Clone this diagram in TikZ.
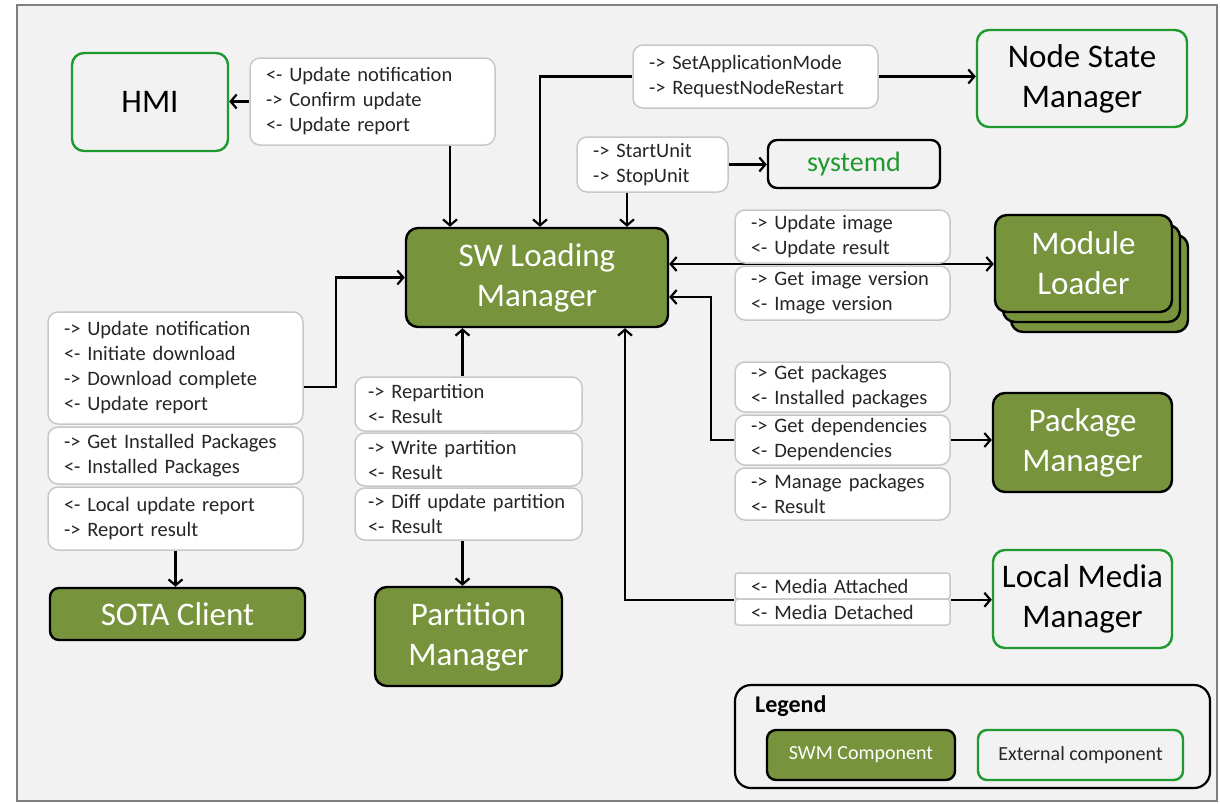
\documentclass[tikz,border=0pt]{standalone}
\usepackage{fontspec}
\setmainfont{Carlito}
\usetikzlibrary{arrows.meta}
\definecolor{bg}{HTML}{F2F2F2}
\definecolor{olive}{HTML}{77933C}
\definecolor{extgreen}{HTML}{1F9A2E}
\definecolor{lblgrey}{HTML}{C8C8C8}
\definecolor{txt}{HTML}{262626}
\definecolor{framegrey}{HTML}{7F7F7F}
\pgfdeclarelayer{back}
\pgfsetlayers{back,main}
\begin{document}
\begin{tikzpicture}[x=1pt,y=-1pt,
  comp/.style={rounded corners=12pt, line width=2.4pt, align=center, inner sep=0pt,
    font=\fontsize{33}{40}\selectfont},
  swm/.style={comp, draw=black, fill=olive, text=white},
  ext/.style={comp, draw=extgreen, fill=bg, text=black},
  lbl/.style={draw=lblgrey, fill=white, line width=1.5pt, rounded corners=10pt,
    inner xsep=16pt, inner ysep=0pt, align=left, text=txt,
    font=\fontsize{20.5}{25}\selectfont},
  arr/.style={line width=2.2pt, -{Straight Barb[length=6pt,width=14pt]}},
  arrboth/.style={line width=2.2pt, {Straight Barb[length=6pt,width=14pt]}-{Straight Barb[length=6pt,width=14pt]}},
]
\useasboundingbox (0,0) rectangle (1220,803);

% HMI
\node[ext, minimum width=156pt, minimum height=98pt] (hmi) at (150,102) {HMI};
\node[lbl, text width=213pt, minimum height=87pt] (hmil) at (372.5,101.5)
  {<- Update notification\\-> Confirm update\\<- Update report};

% Node State Manager
\node[ext, minimum width=210pt, minimum height=97pt] (nsm) at (1082,78.5) {Node State\\Manager};
\node[lbl, text width=213pt, minimum height=63pt] (nsml) at (755.5,76.5)
  {-> SetApplicationMode\\-> RequestNodeRestart};

% systemd
\node[comp, draw=black, fill=bg, text=extgreen, font=\fontsize{28}{34}\selectfont,
  rounded corners=9pt, minimum width=172pt, minimum height=48pt] (sysd) at (854,164) {systemd};
\node[lbl, text width=119pt, minimum height=55pt] (sysl) at (652.5,164.5)
  {-> StartUnit\\-> StopUnit};

% SW Loading Manager
\node[swm, minimum width=262pt, minimum height=99pt] (swlm) at (537,277.5) {SW Loading\\Manager};

% Module Loader (stacked instances)
\node[swm, minimum width=177pt, minimum height=97pt] (ml3) at (1099.5,283.5) {};
\node[swm, minimum width=177pt, minimum height=97pt] (ml2) at (1091.5,273.5) {};
\node[swm, minimum width=177pt, minimum height=97pt] (ml) at (1083.5,263.5) {Module\\Loader};
\node[lbl, text width=183pt, minimum height=53pt] (mll1) at (842.5,236.5)
  {-> Update image\\<- Update result};
\node[lbl, text width=183pt, minimum height=54pt] (mll2) at (842.5,293)
  {-> Get image version\\<- Image version};

% Package Manager
\node[swm, minimum width=179pt, minimum height=99pt] (pkg) at (1082.5,442.5) {Package\\Manager};
\node[lbl, text width=183pt, minimum height=50pt] (pkl1) at (842.5,387)
  {-> Get packages\\<- Installed packages};
\node[lbl, text width=183pt, minimum height=50pt] (pkl2) at (842.5,440)
  {-> Get dependencies\\<- Dependencies};
\node[lbl, text width=183pt, minimum height=52pt] (pkl3) at (842.5,494)
  {-> Manage packages\\<- Result};

% Local Media Manager
\node[ext, minimum width=179pt, minimum height=98pt] (lmm) at (1082.5,599) {Local Media\\Manager};
\node[lbl, rounded corners=3pt, text width=183pt, minimum height=26pt] (lml1) at (842.5,586)
  {<- Media Attached};
\node[lbl, rounded corners=3pt, text width=183pt, minimum height=26pt] (lml2) at (842.5,612)
  {<- Media Detached};

% SOTA Client
\node[lbl, text width=223pt, minimum height=112pt] (sl1) at (175.5,368)
  {-> Update notification\\<- Initiate download\\-> Download complete\\<- Update report};
\node[lbl, text width=223pt, minimum height=57pt] (sl2) at (175.5,455.5)
  {-> Get Installed Packages\\<- Installed Packages};
\node[lbl, text width=223pt, minimum height=63pt] (sl3) at (175.5,518.5)
  {<- Local update report\\-> Report result};
\node[swm, rounded corners=9pt, minimum width=255pt, minimum height=52pt] (sota) at (177.5,614) {SOTA Client};

% Partition Manager
\tikzset{plbl/.style={lbl, inner xsep=13pt, text width=201pt}}
\node[plbl, minimum height=54pt] (pl1) at (468.5,404)
  {-> Repartition\\<- Result};
\node[plbl, minimum height=53pt] (pl2) at (468.5,459.5)
  {-> Write partition\\<- Result};
\node[plbl, minimum height=52pt] (pl3) at (468.5,514)
  {\mbox{-> Diff update partition}\\<- Result};
\node[swm, minimum width=187pt, minimum height=99pt] (part) at (468.5,636.5) {Partition\\Manager};

% Legend
\node[draw=black, line width=2.2pt, rounded corners=16pt, minimum width=475pt,
  minimum height=103pt] (legend) at (972.5,736.5) {};
\node[anchor=west, inner sep=0pt, font=\bfseries\fontsize{24}{28}\selectfont, text=black]
  (legtitle) at (755,706) {Legend};
\node[swm, font=\fontsize{20}{24}\selectfont, rounded corners=9pt, minimum width=188pt,
  minimum height=50pt] (legswm) at (861,755) {SWM Component};
\node[ext, font=\fontsize{20}{24}\selectfont, text=txt, rounded corners=9pt, minimum width=205pt,
  minimum height=50pt] (legext) at (1080.5,755) {External component};

% background and connectors
\begin{pgfonlayer}{back}
  \fill[white] (0,0) rectangle (1220,803);
  \draw[fill=bg, draw=framegrey, line width=1.5pt] (17,5) rectangle (1217,801);

  \coordinate (y264) at (0,264);
  \coordinate (y297) at (0,297);
  \coordinate (y387) at (0,387);

  \draw[arr] (hmil.west) -- (hmil.west -| hmi.east);
  \path ([xshift=77.5pt]hmil.south) coordinate (h1);
  \draw[arr] (h1) -- (h1 |- swlm.north);

  \path ([xshift=3pt]swlm.north) coordinate (s1);
  \draw[arr] (nsml.west) -| (s1);
  \draw[arr] (nsml.east) -- (nsml.east -| nsm.west);

  \draw[arr] (sysl.east) -- (sysl.east -| sysd.west);
  \path ([xshift=-25.5pt]sysl.south) coordinate (s2);
  \draw[arr] (s2) -- (s2 |- swlm.north);

  \draw[arrboth] (swlm.east |- y264) -- (ml.west |- y264);

  \draw[arr] (pkl2.west) -- ++(-23,0) |- (swlm.east |- y297);
  \draw[arr] (pkl2.east) -- (pkl2.east -| pkg.west);

  \path ([xshift=88pt]swlm.south) coordinate (s3);
  \draw[arr] (lml1.south west) -| (s3);
  \draw[arr] (lml1.south east) -- (lml1.south east -| lmm.west);

  \draw[arr] (sl1.east |- y387) -- ++(32,0) |- (swlm.west);
  \draw[arr] (sl3.south) -- (sl3.south |- sota.north);

  \path ([xshift=-6pt]pl1.north) coordinate (s4);
  \draw[arr] (s4) -- (s4 |- swlm.south);
  \path ([xshift=-6pt]pl3.south) coordinate (s5);
  \draw[arr] (s5) -- (s5 |- part.north);
\end{pgfonlayer}
\end{tikzpicture}
\end{document}
